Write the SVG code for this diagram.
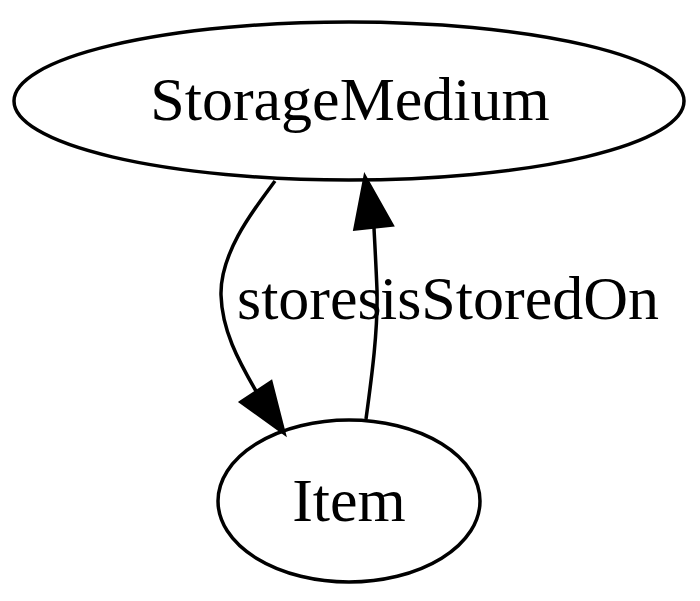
<svg xmlns="http://www.w3.org/2000/svg" width="700" height="601" viewBox="0 0 700 601">
<style>
.node ellipse{fill:none;stroke:#000;stroke-width:3.5}
.edge path{fill:none;stroke:#000;stroke-width:3.5}
.edge polygon{fill:#000;stroke:#000;stroke-width:3.5;stroke-linejoin:miter}
text{font-family:"Liberation Serif","Times New Roman",serif;font-size:62px;fill:#000}
</style>
<rect width="700" height="601" fill="#fff"/>
<g id="node-StorageMedium" class="node">
<ellipse cx="349" cy="101" rx="335" ry="79"/>
<text x="350" y="120" text-anchor="middle">StorageMedium</text>
</g>
<g id="node-Item" class="node">
<ellipse cx="349" cy="501" rx="131" ry="81"/>
<text x="349" y="521" text-anchor="middle">Item</text>
</g>
<g id="edges" class="edge">
<path d="M275,181 C255,208 220,252 221,295 C222,330 238,360 256,391"/>
<polygon points="241,402 271,382 284,433"/>
<text x="237" y="319">stores</text>
<path d="M366,419 C372,375 378,330 377,290 C376,265 375,248 374,228"/>
<polygon points="355,229 392,225 365,177"/>
<text x="380" y="319">isStoredOn</text>
</g>
</svg>
